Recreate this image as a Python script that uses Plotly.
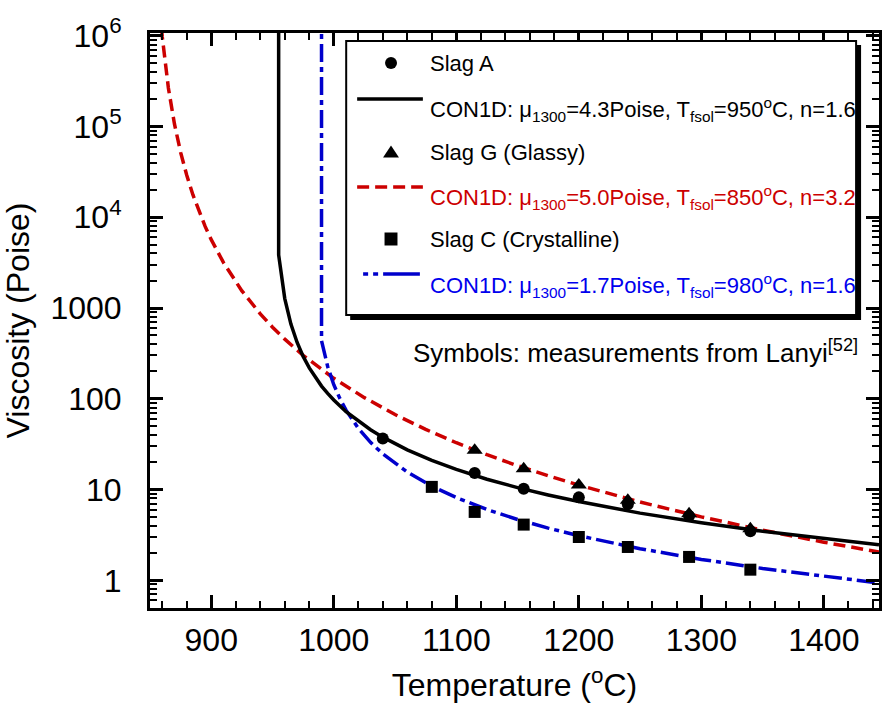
import plotly.graph_objects as go

# ---------------- data ----------------
T_black = [955, 955, 960, 965, 970, 975, 980, 985, 990, 995, 1000, 1010, 1020, 1030, 1040, 1050,
           1060, 1080, 1100, 1125, 1150, 1175, 1200, 1250, 1300, 1350, 1400, 1445]
V_black = [1e7, 3850, 1270, 665, 420, 293, 219, 171, 138, 114.5, 97, 72, 56.5, 45.6, 37.8, 31.9,
           27.4, 21.0, 16.7, 13.0, 10.5, 8.72, 7.37, 5.50, 4.30, 3.47, 2.88, 2.47]

T_red = [857, 860, 865, 870, 875, 880, 885, 890, 895, 900, 910, 925, 940, 950, 960, 975, 1000, 1025,
         1050, 1075, 1100, 1125, 1150, 1175, 1200, 1250, 1300, 1350, 1400, 1445]
V_red = [3.05e6, 976000, 266000, 106000, 51900, 29000, 17700, 11560, 7925, 5660, 3160, 1546, 862, 615,
         454, 301, 168, 103, 67, 46, 32.8, 24.2, 18.3, 14.2, 11.2, 7.29, 5.0, 3.57, 2.63, 2.05]

T_blue = [990, 990, 995, 1000, 1005, 1010, 1020, 1030, 1040, 1060, 1080, 1100, 1125, 1150, 1175,
          1200, 1250, 1300, 1350, 1400, 1445]
V_blue = [1e7, 435, 227, 143, 100.5, 75, 47.4, 33.1, 24.7, 15.6, 10.9, 8.16, 6.03, 4.68, 3.76,
          3.10, 2.23, 1.70, 1.35, 1.10, 0.935]

T_slagA = [1040, 1115, 1155, 1200, 1240, 1290, 1340]
V_slagA = [36.5, 15.2, 10.2, 8.2, 6.9, 5.1, 3.47]
T_slagG = [1115, 1155, 1200, 1240, 1290, 1340]
V_slagG = [27.1, 17.0, 11.2, 7.6, 5.4, 3.7]
T_slagC = [1080, 1115, 1155, 1200, 1240, 1290, 1340]
V_slagC = [10.7, 5.67, 4.11, 3.0, 2.33, 1.81, 1.31]

x_ticks = [900, 1000, 1100, 1200, 1300, 1400]
y_ticks = [1, 10, 100, 1000, 1e4, 1e5, 1e6]
y_ticktext = ["1", "10", "100", "1000", "10<sup>4</sup>", "10<sup>5</sup>", "10<sup>6</sup>"]
y_minor = [m * 10 ** e for e in range(-1, 6) for m in range(2, 10)]

legend_labels = [
    "Slag A",
    "CON1D: \u03bc<sub>1300</sub>=4.3Poise, T<sub>fsol</sub>=950<sup>o</sup>C, n=1.6",
    "Slag G (Glassy)",
    "CON1D: \u03bc<sub>1300</sub>=5.0Poise, T<sub>fsol</sub>=850<sup>o</sup>C, n=3.2",
    "Slag C (Crystalline)",
    "CON1D: \u03bc<sub>1300</sub>=1.7Poise, T<sub>fsol</sub>=980<sup>o</sup>C, n=1.6",
]

RED = "#CC0000"
BLUE = "#0000CC"
BLUE_TXT = "#0000EE"
FONT = "Liberation Sans, Arial, sans-serif"

# ---------------- figure ----------------
W, H = 883, 709
L, R, TM, BM = 150, 1, 33, 101
PW = W - L - R
PH = H - TM - BM


def px(x):
    return (x - L) / PW


def py(y):
    return (H - BM - y) / PH


fig = go.Figure()
fig.add_trace(go.Scatter(x=T_red, y=V_red, mode="lines",
                         line=dict(color=RED, width=3.5, dash="12px,6px")))
fig.add_trace(go.Scatter(x=T_blue, y=V_blue, mode="lines",
                         line=dict(color=BLUE, width=3.5, dash="18px,5px,5px,5px")))
fig.add_trace(go.Scatter(x=T_black, y=V_black, mode="lines",
                         line=dict(color="black", width=3.5)))
fig.add_trace(go.Scatter(x=T_slagA, y=V_slagA, mode="markers",
                         marker=dict(symbol="circle", size=12, color="black")))
fig.add_trace(go.Scatter(x=T_slagG, y=V_slagG, mode="markers",
                         marker=dict(symbol="triangle-up", size=14, color="black")))
fig.add_trace(go.Scatter(x=T_slagC, y=V_slagC, mode="markers",
                         marker=dict(symbol="square", size=12, color="black")))

axis_common = dict(
    showline=True, linecolor="black", linewidth=3, mirror="allticks",
    ticks="inside", ticklen=13, tickwidth=2.5, tickcolor="black",
    showgrid=False, zeroline=False,
    tickfont=dict(family=FONT, size=32, color="black"),
)

fig.update_xaxes(
    range=[850, 1445], tickvals=x_ticks,
    minor=dict(ticks="inside", ticklen=7, tickwidth=2, tickcolor="black", dtick=20, tick0=800),
    title=dict(text="Temperature (<sup>o</sup>C)", font=dict(family=FONT, size=32, color="black"), standoff=17),
    ticklabelstandoff=2,
    **axis_common,
)
fig.update_yaxes(
    type="log", range=[-0.305, 6.03], tickvals=y_ticks, ticktext=y_ticktext,
    minor=dict(ticks="inside", ticklen=7, tickwidth=2, tickcolor="black", tickvals=y_minor),
    title=dict(text="Viscosity (Poise)", font=dict(family=FONT, size=32, color="black"), standoff=14),
    ticklabelstandoff=19,
    **axis_common,
)

shapes = []
# legend box with shadow
shapes.append(dict(type="rect", xref="paper", yref="paper", x0=px(351), x1=px(864), y0=py(320), y1=py(45),
                   fillcolor="black", line=dict(width=0), layer="above"))
shapes.append(dict(type="rect", xref="paper", yref="paper", x0=px(347), x1=px(859), y0=py(315), y1=py(41),
                   fillcolor="white", line=dict(color="black", width=2), layer="above"))
# legend line samples
shapes.append(dict(type="line", xref="paper", yref="paper", x0=px(358), x1=px(424), y0=py(99), y1=py(99),
                   line=dict(color="black", width=3.5), layer="above"))
shapes.append(dict(type="line", xref="paper", yref="paper", x0=px(358), x1=px(424), y0=py(187), y1=py(187),
                   line=dict(color=RED, width=3.5, dash="12px,6px"), layer="above"))
shapes.append(dict(type="line", xref="paper", yref="paper", x0=px(364), x1=px(421), y0=py(274), y1=py(274),
                   line=dict(color=BLUE, width=3.5, dash="5px,5px,5px,5px,38px"), layer="above"))
# legend symbols
cx = 392
shapes.append(dict(type="circle", xref="paper", yref="paper", x0=px(cx - 6), x1=px(cx + 6), y0=py(63 + 6),
                   y1=py(63 - 6), fillcolor="black", line=dict(width=0), layer="above"))
shapes.append(dict(type="path", xref="paper", yref="paper",
                   path="M %f,%f L %f,%f L %f,%f Z" % (px(cx - 8), py(157.5), px(cx + 8), py(157.5), px(cx), py(145.5)),
                   fillcolor="black", line=dict(width=0), layer="above"))
shapes.append(dict(type="rect", xref="paper", yref="paper", x0=px(cx - 6.5), x1=px(cx + 6.5), y0=py(239 + 6.5),
                   y1=py(239 - 6.5), fillcolor="black", line=dict(width=0), layer="above"))

annotations = []
row_y = [63, 107, 152, 195, 239, 283]
row_col = ["black", "black", "black", RED, "black", BLUE_TXT]
for lbl, yy, col in zip(legend_labels, row_y, row_col):
    annotations.append(dict(x=px(429), y=py(yy + (2 if "sub" in lbl else 0)), xref="paper", yref="paper",
                            xanchor="left", yanchor="middle", text=lbl, showarrow=False,
                            font=dict(family=FONT, size=22, color=col)))
annotations.append(dict(x=px(863), y=py(351), xref="paper", yref="paper", xanchor="right", yanchor="middle",
                        text="Symbols: measurements from Lanyi<sup>[52]</sup>", showarrow=False,
                        font=dict(family=FONT, size=26, color="black")))

fig.update_layout(
    width=W, height=H,
    margin=dict(l=L, r=R, t=TM, b=BM),
    paper_bgcolor="white", plot_bgcolor="white",
    showlegend=False,
    shapes=shapes, annotations=annotations,
    font=dict(family=FONT, color="black"),
)

fig.write_html("out.html")
